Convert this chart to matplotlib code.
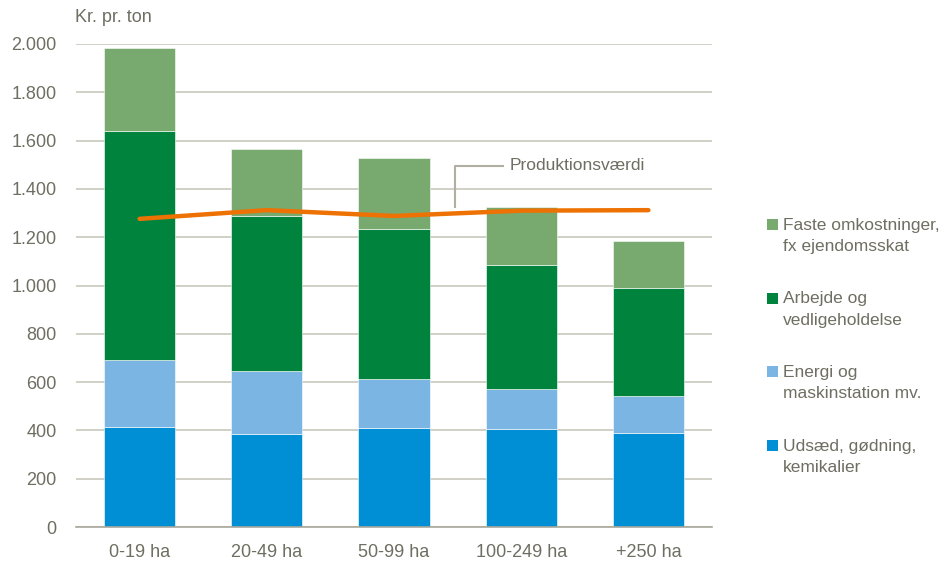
import matplotlib.pyplot as plt
from matplotlib.patches import Rectangle
import numpy as np

# Kategorier og værdier (kr. pr. ton)
kategorier = ['0-19 ha', '20-49 ha', '50-99 ha', '100-249 ha', '+250 ha']
udsaed = [415, 386, 411, 406, 390]
energi = [275, 260, 202, 165, 154]
arbejde = [950, 643, 622, 514, 446]
faste = [342, 276, 294, 241, 194]
produktionsvaerdi = [1276, 1312, 1288, 1310, 1312]

serier = ['Udsæd, gødning,\nkemikalier', 'Energi og\nmaskinstation mv.',
          'Arbejde og\nvedligeholdelse', 'Faste omkostninger,\nfx ejendomsskat']
farver = ['#008FD5', '#7AB5E3', '#00843D', '#78A96E']

tekstfarve = '#6E6E62'
plt.rcParams['font.family'] = ['Liberation Sans', 'DejaVu Sans']

W, H = 942, 563
fig = plt.figure(figsize=(W / 100, H / 100), dpi=100)
ax = fig.add_axes([76 / W, 1 - 527 / H, 636 / W, 483 / H])

x = np.arange(len(kategorier))
bund = np.zeros(len(kategorier))
for vaerdier, farve, navn in zip([udsaed, energi, arbejde, faste], farver, serier):
    ax.bar(x, vaerdier, bottom=bund, width=0.56, color=farve, label=navn,
           edgecolor='white', linewidth=0.4, zorder=2)
    bund += np.array(vaerdier)

ax.plot(x, produktionsvaerdi, color='#EE7203', linewidth=3.2, solid_capstyle='round', zorder=3)

# Annotation for produktionsværdi
ax.plot([2.48, 2.48, 2.86], [1325, 1495, 1495], color='#B0AFA2', linewidth=1.5, zorder=3)
ax.text(2.91, 1495, 'Produktionsværdi', color=tekstfarve, fontsize=12.5, va='center', ha='left')

ax.set_xlim(-0.5, 4.5)
ax.set_ylim(0, 2000)
ax.set_yticks(range(0, 2001, 200))
ax.set_yticklabels([f'{v:,}'.replace(',', '.') for v in range(0, 2001, 200)])
ax.set_xticks(x)
ax.set_xticklabels(kategorier)
ax.tick_params(axis='both', length=0, labelsize=13, colors=tekstfarve)
ax.tick_params(axis='x', pad=12)
ax.tick_params(axis='y', pad=14)
ax.grid(axis='y', color='#C8C8BE', linewidth=1.2, zorder=0)
for s in ['top', 'right', 'left']:
    ax.spines[s].set_visible(False)
ax.spines['bottom'].set_color('#A8A89C')
ax.spines['bottom'].set_linewidth(1.2)

fig.text(75 / W, 1 - 18 / H, 'Kr. pr. ton', color=tekstfarve, fontsize=13, va='center')

# Legende tegnet manuelt, så firkanten flugter med første linje
for i, (navn, farve) in enumerate(zip(serier[::-1], farver[::-1])):
    y_top = 219 + i * 73.5
    fig.patches.append(Rectangle((767 / W, 1 - (y_top + 11) / H), 11 / W, 11 / H,
                                 transform=fig.transFigure, facecolor=farve, edgecolor='none'))
    fig.text(783 / W, 1 - (y_top - 1) / H, navn, color=tekstfarve, fontsize=12.5,
             va='top', ha='left', linespacing=1.5)

fig.savefig('out.png', dpi=100)
